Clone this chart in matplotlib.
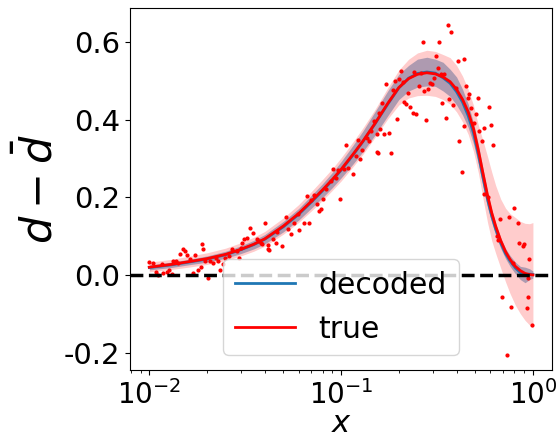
import matplotlib
matplotlib.use("Agg")
import matplotlib.pyplot as plt
import numpy as np

plt.rcParams["axes.unicode_minus"] = False

# grid of x values for the curves
x_grid = [0.010, 0.013, 0.016, 0.020, 0.025, 0.030, 0.035, 0.040, 0.050, 0.060,
          0.070, 0.080, 0.090, 0.100, 0.115, 0.130, 0.150, 0.175, 0.200, 0.225,
          0.250, 0.280, 0.310, 0.340, 0.370, 0.400, 0.430, 0.460, 0.490, 0.520,
          0.550, 0.580, 0.610, 0.640, 0.680, 0.720, 0.760, 0.810, 0.860, 0.910,
          0.960, 1.000]

# true curve and its band
true_mean = [0.020, 0.027, 0.034, 0.042, 0.053, 0.066, 0.079, 0.093, 0.126, 0.158,
             0.190, 0.219, 0.246, 0.272, 0.310, 0.345, 0.390, 0.442, 0.483, 0.506,
             0.517, 0.521, 0.518, 0.510, 0.498, 0.478, 0.452, 0.420, 0.377, 0.320,
             0.260, 0.205, 0.160, 0.125, 0.088, 0.060, 0.040, 0.022, 0.011, 0.004,
             0.001, 0.000]
true_lo = [0.008, 0.014, 0.020, 0.027, 0.037, 0.049, 0.061, 0.074, 0.105, 0.135,
           0.165, 0.192, 0.218, 0.242, 0.278, 0.311, 0.354, 0.402, 0.438, 0.456,
           0.462, 0.463, 0.460, 0.452, 0.440, 0.420, 0.394, 0.362, 0.318, 0.262,
           0.195, 0.135, 0.088, 0.055, 0.017, -0.018, -0.048, -0.078, -0.100, -0.117,
           -0.129, -0.137]
true_hi = [0.033, 0.040, 0.048, 0.057, 0.069, 0.083, 0.097, 0.112, 0.147, 0.181,
           0.215, 0.246, 0.274, 0.302, 0.342, 0.379, 0.426, 0.482, 0.528, 0.556,
           0.572, 0.579, 0.576, 0.568, 0.560, 0.540, 0.512, 0.478, 0.437, 0.385,
           0.345, 0.305, 0.265, 0.230, 0.195, 0.172, 0.158, 0.148, 0.138, 0.133,
           0.132, 0.135]

# decoded curve and its band
dec_mean = [0.019, 0.026, 0.033, 0.041, 0.052, 0.065, 0.078, 0.092, 0.124, 0.156,
            0.188, 0.217, 0.244, 0.270, 0.308, 0.344, 0.389, 0.440, 0.482, 0.507,
            0.519, 0.523, 0.520, 0.508, 0.494, 0.472, 0.445, 0.410, 0.366, 0.310,
            0.250, 0.195, 0.152, 0.118, 0.082, 0.055, 0.036, 0.018, 0.006, 0.001,
            0.002, 0.001]
dec_lo = [0.013, 0.019, 0.026, 0.033, 0.043, 0.055, 0.067, 0.080, 0.111, 0.141,
          0.172, 0.199, 0.225, 0.250, 0.285, 0.318, 0.360, 0.410, 0.452, 0.474,
          0.484, 0.487, 0.486, 0.474, 0.460, 0.438, 0.412, 0.380, 0.338, 0.285,
          0.226, 0.174, 0.135, 0.102, 0.068, 0.042, 0.022, 0.003, -0.012, -0.020,
          -0.012, -0.008]
dec_hi = [0.025, 0.033, 0.040, 0.049, 0.061, 0.075, 0.089, 0.104, 0.138, 0.171,
          0.205, 0.235, 0.264, 0.292, 0.333, 0.371, 0.420, 0.474, 0.517, 0.540,
          0.556, 0.561, 0.556, 0.548, 0.530, 0.510, 0.478, 0.440, 0.392, 0.335,
          0.272, 0.214, 0.168, 0.132, 0.095, 0.068, 0.050, 0.033, 0.022, 0.020,
          0.016, 0.010]

# sampled points
pts_x = [0.0100, 0.0105, 0.0108, 0.0111, 0.0116, 0.0118, 0.0124, 0.0127, 0.0132, 0.0133,
         0.0138, 0.0142, 0.0145, 0.0150, 0.0154, 0.0158, 0.0164, 0.0170, 0.0174, 0.0180,
         0.0187, 0.0189, 0.0191, 0.0196, 0.0203, 0.0208, 0.0216, 0.0224, 0.0229, 0.0235,
         0.0241, 0.0249, 0.0259, 0.0271, 0.0288, 0.0299, 0.0292, 0.0306, 0.0310, 0.0325,
         0.0333, 0.0349, 0.0366, 0.0371, 0.0384, 0.0418,
         0.0403, 0.0389, 0.0418, 0.0423, 0.0439, 0.0455, 0.0466, 0.0489, 0.0513, 0.0526,
         0.0551, 0.0565, 0.0593, 0.0600, 0.0637, 0.0661, 0.0677, 0.0693, 0.0718, 0.0745,
         0.0763, 0.0782, 0.0801, 0.0830, 0.0882, 0.0903, 0.0936, 0.0959, 0.0982, 0.103,
         0.106, 0.109, 0.116, 0.119, 0.123, 0.126, 0.129, 0.137, 0.139, 0.143,
         0.148, 0.153, 0.157, 0.159,
         0.155, 0.153, 0.167, 0.163, 0.171, 0.177, 0.181, 0.186, 0.190, 0.195,
         0.200, 0.205, 0.210, 0.212, 0.217, 0.223, 0.228, 0.236, 0.239, 0.245,
         0.254, 0.260, 0.266, 0.270, 0.276, 0.283, 0.290, 0.297, 0.304, 0.312,
         0.319, 0.323, 0.331, 0.335, 0.343, 0.351, 0.360, 0.373, 0.364, 0.382,
         0.396, 0.406, 0.411, 0.436, 0.447, 0.458,
         0.426, 0.436, 0.463, 0.475, 0.492, 0.504, 0.516, 0.522, 0.542, 0.555,
         0.589, 0.604, 0.618, 0.555, 0.582, 0.649, 0.657, 0.672, 0.749, 0.786,
         0.796, 0.835, 0.845, 0.887, 0.898, 0.952, 0.941, 0.689, 0.767, 0.941,
         0.930, 0.988, 0.731]
pts_y = [0.034, 0.031, 0.008, 0.000, 0.028, 0.005, 0.008, 0.013, 0.003, 0.036,
         0.036, 0.031, 0.054, 0.067, 0.062, 0.052, 0.041, 0.005, 0.052, 0.013,
         0.021, 0.080, 0.067, 0.036, -0.008, 0.036, 0.031, 0.044, 0.036, 0.013,
         0.028, 0.044, 0.049, 0.067, 0.062, 0.070, 0.044, 0.083, 0.093, 0.095,
         0.121, 0.108, 0.093, 0.088, 0.083, 0.067,
         0.134, 0.080, 0.077, 0.065, 0.093, 0.083, 0.111, 0.075, 0.150, 0.119,
         0.106, 0.134, 0.157, 0.116, 0.134, 0.204, 0.134, 0.194, 0.206, 0.183,
         0.165, 0.170, 0.196, 0.222, 0.243, 0.274, 0.250, 0.271, 0.196, 0.274,
         0.335, 0.276, 0.261, 0.307, 0.348, 0.299, 0.323, 0.354, 0.346, 0.372,
         0.397, 0.317, 0.418, 0.377,
         0.315, 0.364, 0.364, 0.444, 0.493, 0.366, 0.315, 0.477, 0.501, 0.403,
         0.506, 0.526, 0.498, 0.446, 0.441, 0.470, 0.434, 0.418, 0.524, 0.415,
         0.488, 0.521, 0.601, 0.475, 0.400, 0.480, 0.495, 0.493, 0.508, 0.565,
         0.532, 0.601, 0.519, 0.444, 0.519, 0.405, 0.645, 0.627, 0.454, 0.439,
         0.483, 0.552, 0.346, 0.557, 0.488, 0.457,
         0.266, 0.385, 0.467, 0.431, 0.392, 0.415, 0.457, 0.372, 0.346, 0.379,
         0.434, 0.387, 0.335, 0.209, 0.201, 0.101, 0.090, 0.145, 0.150, 0.031,
         0.173, 0.134, 0.083, 0.075, 0.080, 0.041, -0.008, -0.057, -0.083, -0.057,
         -0.085, -0.129, -0.206]

fig = plt.figure(figsize=(5.56, 4.42), dpi=100)
ax = fig.add_axes([0.234, 0.162, 0.759, 0.820])

# decoded band under the true band, so the overlap turns purple
ax.fill_between(x_grid, dec_lo, dec_hi, color="C0", alpha=0.45, lw=0)
ax.fill_between(x_grid, true_lo, true_hi, color="red", alpha=0.2, lw=0)
ax.plot(x_grid, dec_mean, color="C0", lw=2, label="decoded")
ax.plot(x_grid, true_mean, color="red", lw=2, label="true")
ax.scatter(pts_x, pts_y, color="red", s=4, zorder=3)
ax.axhline(0, color="k", ls="--", lw=2.5, zorder=4)

ax.set_xscale("log")
ax.set_ylim(-0.246, 0.688)
ax.set_yticks([-0.2, 0.0, 0.2, 0.4, 0.6])
ax.set_yticklabels(["-0.2", "0.0", "0.2", "0.4", "0.6"])
ax.tick_params(axis="y", labelsize=21)
ax.tick_params(axis="x", labelsize=20)
ax.set_xlabel(r"$x$", fontsize=22, labelpad=-1)
ax.set_ylabel(r"$d-\bar{d}$", fontsize=31, labelpad=2)
ax.legend(loc="lower center", fontsize=21.5)

fig.savefig("out.png", dpi=100)
plt.close(fig)
